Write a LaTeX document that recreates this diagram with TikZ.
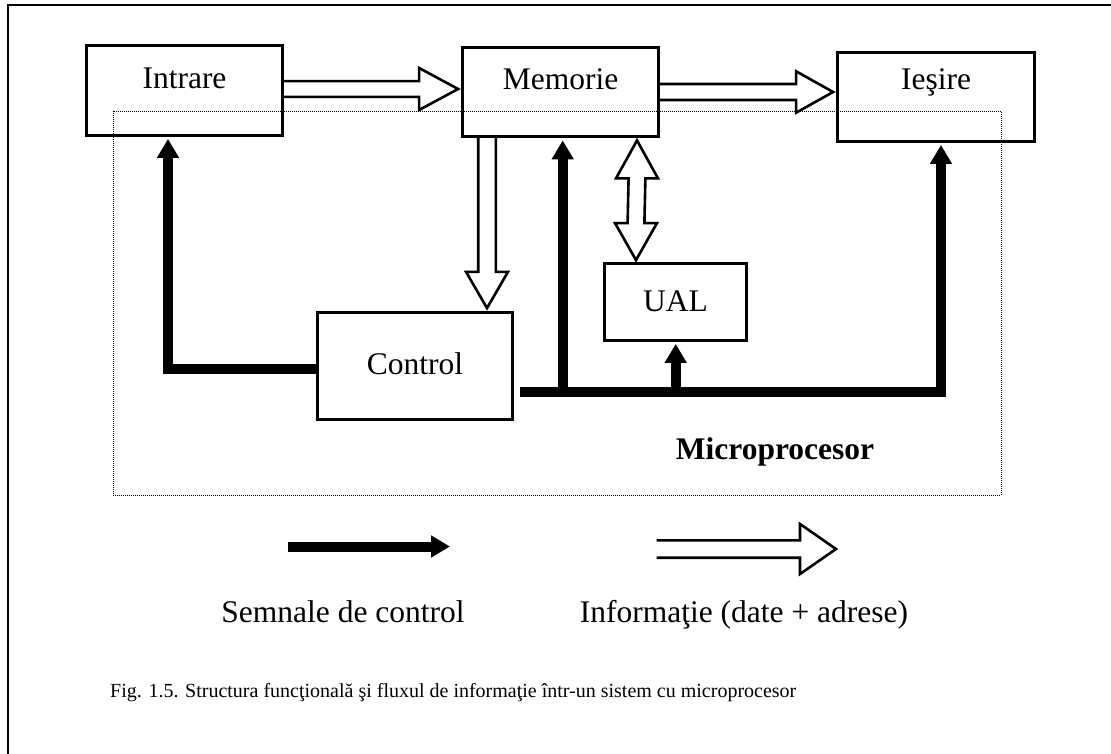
\documentclass[tikz,border=0pt]{standalone}
\usepackage{fontspec}
\setmainfont{Liberation Serif}
\usetikzlibrary{arrows.meta,calc}

\tikzset{
  box/.style={draw, line width=2.8pt, inner sep=0pt, anchor=base,
    font=\fontsize{31.5}{36}\selectfont},
  ctl/.style={line width=10pt, line join=miter,
    -{Triangle[width=21pt,length=19pt]}},
  hollow/.style={line width=2.6pt, line join=miter},
  dotbox/.style={line width=0.9pt, dash pattern=on 1pt off 1pt},
  frameline/.style={line width=1.5pt},
  lbl/.style={font=\fontsize{31.5}{36}\selectfont, anchor=base, inner sep=0pt},
  captxt/.style={font=\fontsize{20}{24}\selectfont, anchor=base west, inner sep=0pt}
}

% horizontal hollow arrow: start, tip, half gap of the rails, head length, head half width
\newcommand\hollowH[5]{%
  \draw[hollow] ($(#1)+(0,-#3)$) -- ($(#2)+(-#4,-#3)$) -- ($(#2)+(-#4,-#5)$) -- (#2)
    -- ($(#2)+(-#4,#5)$) -- ($(#2)+(-#4,#3)$) -- ($(#1)+(0,#3)$);}
% vertical hollow arrow pointing down
\newcommand\hollowD[5]{%
  \draw[hollow] ($(#1)+(-#3,0)$) -- ($(#2)+(-#3,-#4)$) -- ($(#2)+(-#5,-#4)$) -- (#2)
    -- ($(#2)+(#5,-#4)$) -- ($(#2)+(#3,-#4)$) -- ($(#1)+(#3,0)$);}

\begin{document}
\begin{tikzpicture}[x=1pt,y=-1pt]
\useasboundingbox (0,0) rectangle (1111,754);
\fill[white] (0,0) rectangle (1111,754);

% page frame
\draw[frameline] (8,760) -- (8,5) -- (1120,5);

% microprocessor boundary
\draw[dotbox] (113,111) rectangle (1001,495);
\node[font=\bfseries\fontsize{31.5}{36}\selectfont, anchor=base, inner sep=0pt] (mp) at (775,459) {Microprocesor};

% blocks
\node[box, minimum width=196pt, text height=43.5pt, text depth=46.5pt] (intr) at (184.5,89) {Intrare};
\node[box, minimum width=196pt, text height=42.5pt, text depth=46.5pt] (mem) at (560.5,90) {Memorie};
\node[box, minimum width=197pt, text height=37.5pt, text depth=51.5pt] (ies) at (936,90) {Ieşire};
\node[box, minimum width=195pt, text height=61.5pt, text depth=45.5pt] (ctrl) at (415,374) {Control};
\node[box, minimum width=142pt, text height=48.2pt, text depth=28.8pt] (ual) at (675.5,311.7) {UAL};

% information flow (hollow arrows)
\coordinate (a1) at (intr.east |- 0,89);
\coordinate (a2) at ($(mem.west |- 0,89)+(-3,0)$);
\hollowH{a1}{a2}{7.9}{39}{21}
\coordinate (b1) at (mem.east |- 0,92);
\coordinate (b2) at ($(ies.west |- 0,92)+(-3,0)$);
\hollowH{b1}{b2}{8}{37}{20.7}
\coordinate (c1) at (mem.south -| 487,0);
\coordinate (c2) at ($(ctrl.north -| 487,0)+(0,-3)$);
\hollowD{c1}{c2}{8.8}{36.3}{21}
% memory <-> ALU
\coordinate (d1) at ($(mem.south -| 637,0)+(0,2.5)$);
\coordinate (d2) at ($(ual.north -| 636,0)+(0,-2)$);
\draw[hollow] (d1) -- ($(d1)+(21,38)$) -- ($(d1)+(8.4,38)$) -- ($(d2)+(8.4,-37)$)
  -- ($(d2)+(21,-37)$) -- (d2) -- ($(d2)+(-21,-37)$) -- ($(d2)+(-8.4,-37)$)
  -- ($(d1)+(-8.4,38)$) -- ($(d1)+(-21,38)$) -- cycle;

% control signals (solid arrows)
\coordinate (cl) at (168,369);
\draw[ctl, shorten >=2pt] (ctrl.west |- cl) -- (cl) -- (intr.south -| cl);
\coordinate (busR) at (941,392);
\draw[ctl, shorten >=2pt] ($(ctrl.east |- busR)+(6,0)$) -- (busR) -- (ies.south -| busR);
\coordinate (bm) at (562.7,392);
\draw[ctl, shorten >=2.5pt] (bm) -- (mem.south -| bm);
\coordinate (bu) at (675.7,392);
\draw[ctl, shorten >=2pt] (bu) -- (ual.south -| bu);

% legend
\coordinate (l1) at (288,546.5);
\coordinate (l2) at (450,546.5);
\draw[ctl] (l1) -- (l2);
\coordinate (h1) at (656.5,549);
\coordinate (h2) at (836,549);
\hollowH{h1}{h2}{8.7}{36}{25}
\node[lbl] (t1) at (343,622) {Semnale de control};
\node[lbl] (t2) at (744,622) {Informaţie (date + adrese)};

% caption
\node[captxt] (fig) at (110,697) {Fig. 1.5. Structura funcţională şi fluxul de informaţie într-un sistem cu microprocesor};
\end{tikzpicture}
\end{document}
